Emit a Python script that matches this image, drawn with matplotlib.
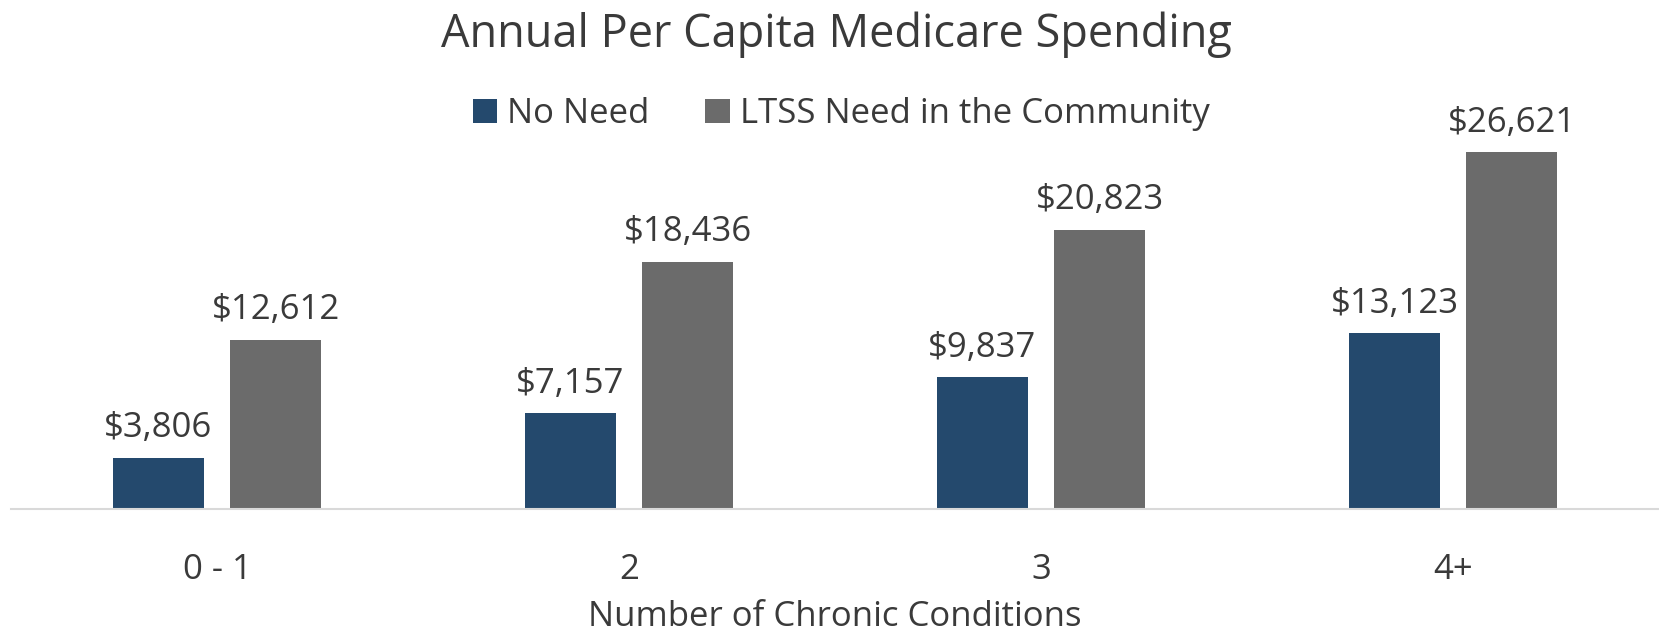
import matplotlib
matplotlib.use("Agg")
import matplotlib.pyplot as plt
import numpy as np
from matplotlib.patches import Patch

plt.rcParams['font.family'] = ['Open Sans', 'DejaVu Sans']

categories = ["0 - 1", "2", "3", "4+"]
no_need = [3806, 7157, 9837, 13123]
ltss_need = [12612, 18436, 20823, 26621]
series_names = ["No Need", "LTSS Need in the Community"]
colors = ["#24496D", "#6B6B6B"]
text_color = "#3A3A3A"

fig = plt.figure(figsize=(16.59, 6.34), dpi=100)
ax = fig.add_axes([11/1659, 1 - 509/634, 1648/1659, (509 - 107)/634])

x = np.arange(len(categories))
w = 0.223
off = 0.142
b1 = ax.bar(x - off, no_need, w, color=colors[0])
b2 = ax.bar(x + off, ltss_need, w, color=colors[1])

for bars, vals in ((b1, no_need), (b2, ltss_need)):
    for r, v in zip(bars, vals):
        ax.annotate(f"${v:,}", (r.get_x() + r.get_width() / 2, v),
                    xytext=(0, 9), textcoords="offset points",
                    ha="center", va="bottom", fontsize=25, color=text_color)

ax.set_xlim(-0.5, 3.5)
ax.set_ylim(0, 30000)
ax.set_yticks([])
ax.set_xticks(x)
ax.set_xticklabels(categories, fontsize=25, color=text_color)
ax.tick_params(axis='x', length=0, pad=32)
for s in ["top", "right", "left"]:
    ax.spines[s].set_visible(False)
ax.spines["bottom"].set_color("#D9D9D9")
ax.spines["bottom"].set_linewidth(1.5)
ax.set_xlabel("Number of Chronic Conditions", fontsize=25, color=text_color, labelpad=9)

fig.text(0.504, 1 - 35/634, "Annual Per Capita Medicare Spending", ha="center", va="center",
         fontsize=32.5, color=text_color)

handles = [Patch(facecolor=c) for c in colors]
fig.legend(handles, series_names, loc="center", bbox_to_anchor=(0.507, 1 - 114/634),
           ncol=2, frameon=False, fontsize=25, handlelength=0.7, handleheight=0.7,
           handletextpad=0.3, columnspacing=1.6, labelcolor=text_color)

fig.savefig("out.png", dpi=100)
